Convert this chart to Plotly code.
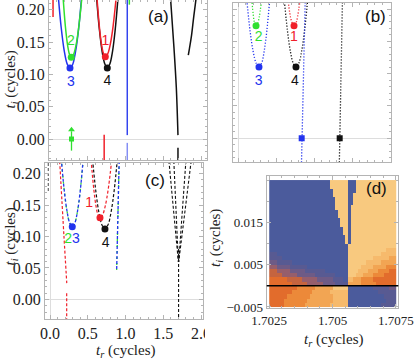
import plotly.graph_objects as go

RED = "#f0202a"
GREEN = "#30e030"
BLUE = "#2233ee"
BLACK = "#111111"
FRAME = "#b4b4b4"

# ---------- panel (a): solid curves ----------
a_blue_x = [0.125, 0.16, 0.20, 0.24, 0.276, 0.31, 0.35, 0.39, 0.43]
a_blue_y = [0.217, 0.173, 0.137, 0.116, 0.110, 0.115, 0.136, 0.171, 0.221]
a_green_x = [0.185, 0.215, 0.245, 0.27, 0.293, 0.32, 0.355, 0.39, 0.432]
a_green_y = [0.220, 0.175, 0.145, 0.131, 0.1265, 0.130, 0.145, 0.172, 0.218]
a_black_x = [0.625, 0.66, 0.70, 0.735, 0.767, 0.80, 0.835, 0.87, 0.908]
a_black_y = [0.221, 0.173, 0.135, 0.116, 0.110, 0.116, 0.135, 0.168, 0.219]
a_red_x = [0.632, 0.665, 0.69, 0.715, 0.741, 0.77, 0.80, 0.835, 0.88]
a_red_y = [0.217, 0.171, 0.147, 0.133, 0.1275, 0.131, 0.143, 0.167, 0.2145]
a_red_short_x = [0.053, 0.053]
a_red_short_y = [0.189, 0.222]
a_blue_vert_x = [1.03, 1.03]
a_blue_vert_y = [0.225, 0.006]
a_blue_low_x = [1.03, 1.03]
a_blue_low_y = [-0.006, -0.04]
a_green_tip_x = [1.057, 1.057]
a_green_tip_y = [0.208, 0.216]
a_black_line_x = [1.598, 1.645, 1.675, 1.697]
a_black_line_y = [0.22, 0.14, 0.08, 0.006]
a_black_low_x = [1.697, 1.697]
a_black_low_y = [-0.0135, -0.04]
a_black_right_x = [1.94, 1.905, 1.875, 1.848, 1.833]
a_black_right_y = [0.222, 0.19, 0.16, 0.14, 0.13]
a_red_vert_x = [0.726, 0.726]
a_red_vert_y = [0.0065, -0.04]
a_arrow_x = [0.296, 0.296]
a_arrow_y = [-0.018, 0.012]
a_vertex_x = [0.293, 0.276, 0.741, 0.767]
a_vertex_y = [0.1265, 0.110, 0.1275, 0.110]
a_label_x = [0.741, 0.289, 0.289, 0.767]
a_label_y = [0.1506, 0.1506, 0.0872, 0.0887]

# ---------- panel (b): dotted curves ----------
b_green_x = [0.185, 0.20, 0.215, 0.237, 0.26, 0.28, 0.305]
b_green_y = [0.210, 0.192, 0.180, 0.174, 0.178, 0.188, 0.209]
b_blue_x = [0.12, 0.16, 0.20, 0.24, 0.276, 0.31, 0.35, 0.38, 0.415]
b_blue_y = [0.209, 0.165, 0.134, 0.116, 0.1104, 0.116, 0.139, 0.167, 0.211]
b_red_x = [0.66, 0.68, 0.70, 0.737, 0.765, 0.785, 0.812]
b_red_y = [0.212, 0.195, 0.183, 0.174, 0.179, 0.189, 0.210]
b_black_x = [0.615, 0.65, 0.69, 0.73, 0.763, 0.80, 0.84, 0.875, 0.915]
b_black_y = [0.207, 0.167, 0.134, 0.115, 0.1104, 0.116, 0.1365, 0.166, 0.212]
b_blue_vert_x = [0.885, 0.835]
b_blue_vert_y = [0.215, -0.04]
b_black_vert_x = [1.375, 1.333]
b_black_vert_y = [0.215, -0.04]
b_vertex_x = [0.737, 0.237, 0.276, 0.763]
b_vertex_y = [0.174, 0.174, 0.1104, 0.1104]
b_square_x = [0.838, 1.338]
b_square_y = [0.0, 0.0]
b_label_x = [0.737, 0.272, 0.272, 0.75]
b_label_y = [0.1557, 0.1557, 0.0876, 0.0876]

# ---------- panel (c): dashed curves ----------
c_black_left_x = [-0.0225, -0.0225]
c_black_left_y = [0.2167, 0.171]
c_red_line_x = [0.128, 0.185, 0.222]
c_red_line_y = [0.22, 0.10, 0.026]
c_red_low_x = [0.221, 0.221]
c_red_low_y = [0.0098, -0.035]
c_blue_x = [0.155, 0.19, 0.225, 0.26, 0.295, 0.33, 0.365, 0.40, 0.44]
c_blue_y = [0.2156, 0.1718, 0.1406, 0.1218, 0.1156, 0.1218, 0.1406, 0.1718, 0.223]
c_red_x = [0.55, 0.58, 0.61, 0.635, 0.662, 0.695, 0.73, 0.77, 0.81]
c_red_y = [0.2138, 0.1748, 0.1479, 0.1347, 0.1298, 0.1339, 0.1474, 0.1741, 0.213]
c_black_x = [0.57, 0.61, 0.65, 0.69, 0.728, 0.77, 0.81, 0.85, 0.895]
c_black_y = [0.2143, 0.169, 0.1368, 0.1178, 0.1119, 0.1191, 0.1395, 0.173, 0.2262]
c_vert_x = [0.916, 0.883]
c_vert_y = [0.22, 0.0468]
c_v_lines = [
    ([1.575, 1.70], [0.22, 0.06]),
    ([1.64, 1.70], [0.22, 0.06]),
    ([1.80, 1.705], [0.22, 0.06]),
    ([1.87, 1.705], [0.22, 0.06]),
    ([1.703, 1.703], [0.08, -0.035]),
]
c_vertex_x = [0.295, 0.662, 0.728]
c_vertex_y = [0.1156, 0.1298, 0.1119]
c_label_x = [0.52, 0.242, 0.344, 0.738]
c_label_y = [0.1527, 0.096, 0.096, 0.0892]

# ---------- panel (d): phase map, run-length rows, top row first ----------
d_rows = [
    "0:24 9:7 0:3 9:16",
    "0:24 9:7 0:3 9:16",
    "0:25 9:6 0:3 9:16",
    "0:25 9:6 0:2 9:17",
    "0:26 9:5 0:2 9:17",
    "0:26 9:5 0:2 9:17",
    "0:26 9:5 0:1 9:18",
    "0:27 9:4 0:1 9:18",
    "0:27 9:4 0:1 9:18",
    "0:28 9:3 0:1 9:18",
    "0:28 9:3 0:1 9:18",
    "0:29 9:2 0:1 9:18",
    "0:29 9:2 0:1 9:18",
    "0:30 9:1 0:1 9:18",
    "0:30 9:1 0:1 9:18",
    "0:31 9:19",
    "0:31 9:15 8:4",
    "1:3 0:28 9:13 8:6",
    "1:5 0:26 9:10 8:6 7:3",
    "2:3 1:6 0:22 9:7 8:6 7:6",
    "3:3 2:5 1:7 0:16 9:5 8:5 7:5 6:4",
    "4:3 3:5 2:6 1:8 0:9 9:4 8:4 7:4 6:4 5:3",
    "4:5 3:6 2:7 1:8 0:5 9:3 8:3 7:4 6:4 5:5",
    "5:7 4:6 3:6 2:6 1:4 0:2 8:2 7:3 6:5 5:9",
    "5:9 4:6 3:6 2:5 1:5 7:5 6:6 5:8",
    "5:11 6:7 7:7 9:6 0:10 1:6 2:3",
    "5:9 6:8 7:7 8:7 0:12 1:7",
    "5:7 6:9 7:9 8:6 0:14 1:5",
    "5:6 6:9 7:10 8:6 0:15 1:4",
    "5:6 6:8 7:10 8:7 0:13 1:6",
]
d_colors = ["#4b5b9c", "#585a92", "#6e5b86", "#965e6c", "#c5643f",
            "#e26c2c", "#ec8939", "#f2a553", "#f6ba6c", "#f8c97f"]


def decode(row):
    out = []
    for run in row.split():
        v, n = run.split(":")
        out += [int(v)] * int(n)
    return out


d_grid = [decode(r) for r in reversed(d_rows)]

fig = go.Figure()


def line(x, y, color, xa, ya, dash="solid", width=1.5, opacity=1.0, shape="linear"):
    fig.add_trace(go.Scatter(
        x=x, y=y, mode="lines", xaxis=xa, yaxis=ya, opacity=opacity,
        line=dict(color=color, width=width, dash=dash, shape=shape),
        hoverinfo="skip",
    ))


def dots(x, y, colors, xa, ya, symbol="circle", size=7):
    fig.add_trace(go.Scatter(
        x=x, y=y, mode="markers", xaxis=xa, yaxis=ya,
        marker=dict(color=colors, size=size, symbol=symbol, line=dict(width=0)),
        hoverinfo="skip",
    ))


def labels(x, y, texts, colors, xa, ya):
    fig.add_trace(go.Scatter(
        x=x, y=y, mode="text", xaxis=xa, yaxis=ya, text=texts,
        textfont=dict(family="Liberation Sans", size=14, color=colors),
        hoverinfo="skip",
    ))


# panel (a)
line(a_blue_x, a_blue_y, BLUE, "x", "y", shape="spline")
line(a_green_x, a_green_y, GREEN, "x", "y", shape="spline")
line(a_black_x, a_black_y, BLACK, "x", "y", shape="spline")
line(a_red_x, a_red_y, RED, "x", "y", shape="spline")
line(a_red_short_x, a_red_short_y, RED, "x", "y")
line(a_blue_vert_x, a_blue_vert_y, "#3344ee", "x", "y")
line(a_blue_low_x, a_blue_low_y, "#3344ee", "x", "y", opacity=0.6)
line(a_green_tip_x, a_green_tip_y, GREEN, "x", "y")
line(a_black_line_x, a_black_line_y, BLACK, "x", "y", shape="spline")
line(a_black_low_x, a_black_low_y, BLACK, "x", "y")
line(a_black_right_x, a_black_right_y, BLACK, "x", "y", shape="spline")
line(a_red_vert_x, a_red_vert_y, RED, "x", "y")
line(a_arrow_x, a_arrow_y, GREEN, "x", "y", width=1.3)
dots(a_arrow_x[1:], [0.0145], GREEN, "x", "y", symbol="triangle-up", size=6)
dots(a_arrow_x[:1], [0.0], GREEN, "x", "y", symbol="square", size=5)
dots(a_vertex_x, a_vertex_y, [GREEN, BLUE, RED, BLACK], "x", "y")
labels(a_label_x, a_label_y, ["1", "2", "3", "4"], [RED, GREEN, BLUE, BLACK], "x", "y")

# panel (b)
DOT = "1.2px,1.8px"
line(b_blue_x, b_blue_y, BLUE, "x2", "y2", dash=DOT, width=1.3, shape="spline")
line(b_green_x, b_green_y, GREEN, "x2", "y2", dash=DOT, width=1.3, shape="spline")
line(b_black_x, b_black_y, BLACK, "x2", "y2", dash=DOT, width=1.3, shape="spline")
line(b_red_x, b_red_y, RED, "x2", "y2", dash=DOT, width=1.3, shape="spline")
line(b_blue_vert_x, b_blue_vert_y, BLUE, "x2", "y2", dash=DOT, width=1.3)
line(b_black_vert_x, b_black_vert_y, BLACK, "x2", "y2", dash=DOT, width=1.3)
dots(b_vertex_x, b_vertex_y, [RED, GREEN, BLUE, BLACK], "x2", "y2")
dots(b_square_x, b_square_y, [BLUE, BLACK], "x2", "y2", symbol="square", size=6)
labels(b_label_x, b_label_y, ["1", "2", "3", "4"], [RED, GREEN, BLUE, BLACK], "x2", "y2")

# panel (c)
DASH = "3px,2px"
line(c_black_left_x, c_black_left_y, "#666666", "x3", "y3", dash=DASH, width=1.2)
line(c_red_line_x, c_red_line_y, RED, "x3", "y3", dash=DASH, width=1.2, shape="spline")
line(c_red_low_x, c_red_low_y, RED, "x3", "y3", dash=DASH, width=1.2)
line(c_blue_x, c_blue_y, GREEN, "x3", "y3", dash="2px,4px", width=1.3, shape="spline")
line(c_blue_x, c_blue_y, BLUE, "x3", "y3", dash=DASH, width=1.3, shape="spline")
line(c_red_x, c_red_y, RED, "x3", "y3", dash=DASH, width=1.2, shape="spline")
line(c_black_x, c_black_y, BLACK, "x3", "y3", dash=DASH, width=1.2, shape="spline")
line(c_vert_x, c_vert_y, GREEN, "x3", "y3", dash="2px,4px", width=1.3)
line(c_vert_x, c_vert_y, BLUE, "x3", "y3", dash=DASH, width=1.3)
for vx, vy in c_v_lines:
    line(vx, vy, BLACK, "x3", "y3", dash=DASH, width=1.1)
dots(c_vertex_x, c_vertex_y, [BLUE, RED, BLACK], "x3", "y3")
labels(c_label_x, c_label_y, ["1", "2", "3", "4"], [RED, GREEN, BLUE, BLACK], "x3", "y3")

# panel (d)
n = len(d_colors) - 1
fig.add_trace(go.Heatmap(
    z=d_grid, x0=1.70255, dx=0.0001, y0=-0.0045, dy=0.001,
    zmin=0, zmax=n, showscale=False, zsmooth=False, hoverinfo="skip",
    colorscale=[[i / n, c] for i, c in enumerate(d_colors)],
    xaxis="x4", yaxis="y4",
))
fig.add_shape(type="line", xref="x4 domain", x0=0, x1=1, yref="y4", y0=0, y1=0,
              line=dict(color="black", width=1.5), layer="above")

base = dict(showline=True, linecolor=FRAME, linewidth=1, mirror="ticks",
            ticks="inside", ticklen=4, tickcolor=FRAME, showgrid=False,
            zeroline=True, zerolinecolor="#dddddd", zerolinewidth=1, automargin=False,
            tickfont=dict(family="Liberation Serif", size=16, color="#222"))


def ax(**kw):
    d = dict(base)
    d.update(kw)
    return d


def minor(step):
    return dict(dtick=step, ticks="inside", ticklen=2, tickcolor=FRAME)


W, H = 415.0, 360.0
fig.update_layout(
    width=415, height=360, margin=dict(l=0, r=0, t=0, b=0, autoexpand=False),
    showlegend=False, plot_bgcolor="white", paper_bgcolor="white",
    xaxis=ax(domain=[49 / W, 207 / W], range=[0, 2.079], anchor="y", dtick=0.5,
             showticklabels=False, minor=minor(0.1)),
    yaxis=ax(domain=[1 - 160 / H, 1.0], range=[-0.0325, 0.2152], anchor="x",
             dtick=0.05, tickformat=".2f", minor=minor(0.01)),
    xaxis2=ax(domain=[232.5 / W, 390.5 / W], range=[-0.0724, 2.0066], anchor="y2",
              dtick=0.5, showticklabels=False, minor=minor(0.1)),
    yaxis2=ax(domain=[1 - 162 / H, 1 - 3 / H], range=[-0.0367, 0.2094], anchor="x2",
              dtick=0.05, showticklabels=False, minor=minor(0.01)),
    xaxis3=ax(domain=[45 / W, 203 / W], range=[-0.0662, 2.0265], anchor="y3",
              dtick=0.5, tickformat=".1f", minor=minor(0.1)),
    yaxis3=ax(domain=[1 - 319 / H, 1 - 163 / H], range=[-0.031, 0.2167], anchor="x3",
              dtick=0.05, tickformat=".2f", minor=minor(0.01)),
    xaxis4=ax(domain=[266.7 / W, 398.3 / W], range=[1.7024, 1.7076], anchor="y4",
              zeroline=False, tickmode="array", tickvals=[1.7025, 1.705, 1.7075],
              ticktext=["1.7025", "1.705", "1.7075"],
              tickfont=dict(family="Liberation Serif", size=13, color="#222"),
              minor=dict(tickmode="array", tickvals=[1.703, 1.7035, 1.704, 1.7045, 1.7055, 1.706, 1.7065, 1.707],
                         ticks="inside", ticklen=2, tickcolor=FRAME)),
    yaxis4=ax(domain=[1 - 308 / H, 1 - 176 / H], range=[-0.00525, 0.02596], anchor="x4",
              zeroline=False, tickmode="array", tickvals=[-0.005, 0.005, 0.015],
              ticktext=["\u22120.005", "0.005", "0.015"],
              tickfont=dict(family="Liberation Serif", size=13, color="#222"),
              minor=dict(tickmode="array", tickvals=[0.0, 0.01, 0.02, 0.025],
                         ticks="inside", ticklen=2, tickcolor=FRAME)),
)

TITLE_FONT = dict(family="Liberation Serif", size=15, color="#222")
YT = "<i>t</i><sub><i>i</i></sub> (cycles)"
XT = "<i>t</i><sub><i>r</i></sub> (cycles)"
for x, y, txt, ang in [(10.5, 80, YT, -90), (10.5, 237, YT, -90), (216, 238, YT, -90),
                       (125, 351, XT, 0), (333, 340, XT, 0)]:
    fig.add_annotation(x=x / W, y=1 - y / H, xref="paper", yref="paper", text=txt,
                       textangle=ang, showarrow=False, font=TITLE_FONT,
                       xanchor="center", yanchor="middle")

PANEL_FONT = dict(family="Liberation Sans", size=17, color="#111")
for x, y, txt in [(158.3, 16.7, "(a)"), (375, 16.7, "(b)"), (155, 180, "(c)"), (376.7, 188.3, "(d)")]:
    fig.add_annotation(x=x / W, y=1 - y / H, xref="paper", yref="paper", text=txt,
                       showarrow=False, font=PANEL_FONT, xanchor="center", yanchor="middle")

# the right edge of the (c) tick label row is clipped in the original
fig.add_shape(type="rect", xref="paper", yref="paper", x0=205 / W, x1=230 / W,
              y0=1 - 345 / H, y1=1 - 322 / H, fillcolor="white", line=dict(width=0), layer="above")

fig.write_html("out.html", config={"displayModeBar": False},
               post_script="document.body.style.margin='0';")
